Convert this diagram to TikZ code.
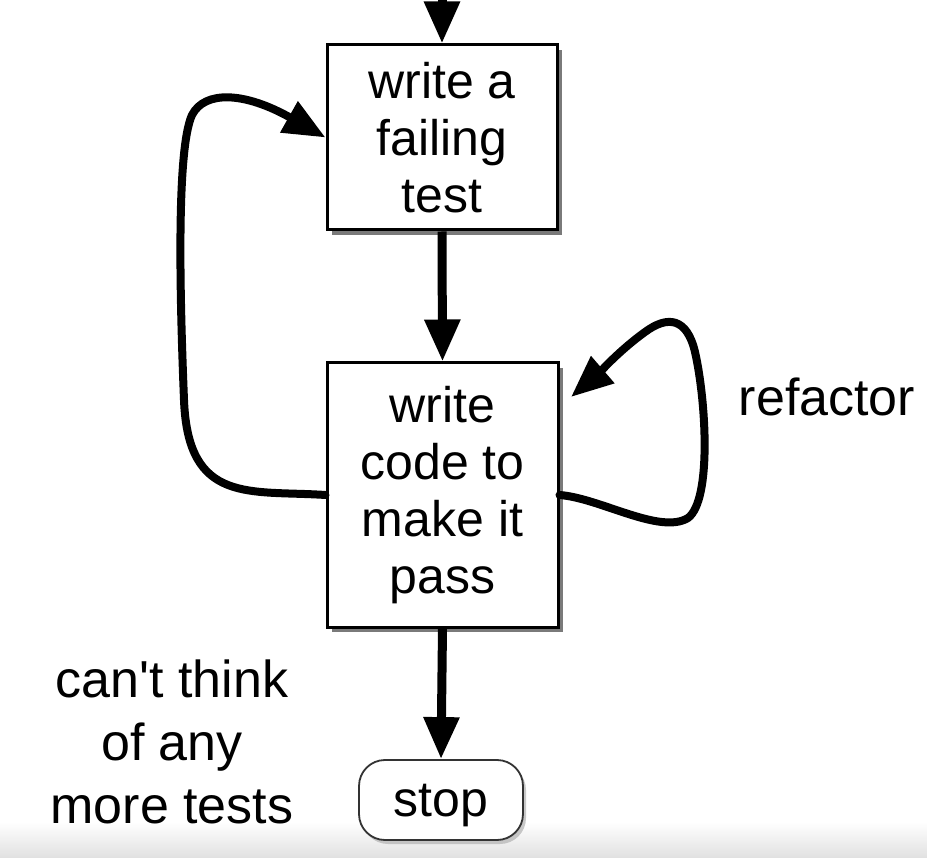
\documentclass[tikz,border=0pt]{standalone}
\usepackage{fontspec}
\setmainfont{Liberation Sans}[Ligatures=TeXOff]
\usetikzlibrary{arrows.meta,shadows,calc}
\begin{document}
\begin{tikzpicture}[x=1pt,y=-1pt,
  boxstyle/.style={draw=black, line width=3pt, fill=white, align=center, inner sep=0pt,
    font=\fontsize{50}{57}\selectfont,
    drop shadow={shadow xshift=5pt, shadow yshift=-5pt, fill=black!65, opacity=0.8}},
  stopstyle/.style={draw=black!80, line width=1.8pt, fill=white, rounded corners=26pt, inner sep=0pt,
    font=\fontsize{50}{57}\selectfont, minimum width=164pt, minimum height=80pt, text depth=0pt,
    drop shadow={shadow xshift=3pt, shadow yshift=-4pt, fill=black!30, opacity=0.7}},
  flow/.style={line width=9pt, -{Triangle[width=34pt,length=42pt]}},
  loop/.style={line width=8pt, line cap=round, -{Triangle[width=34pt,length=42pt]}},
  lbl/.style={font=\fontsize{52}{63}\selectfont, align=center, inner sep=0pt}
]
\useasboundingbox (0,0) rectangle (927,858);
\fill[white] (0,0) rectangle (927,858);
\shade[top color=white, bottom color=black!12] (0,822) rectangle (927,858);

\node[boxstyle, minimum width=230pt, minimum height=185pt] (b1) at (442,137.5) {write a\\failing\\test};
\node[boxstyle, minimum width=231pt, minimum height=264pt] (b2) at (442.5,495) {write\\code to\\make it\\pass};
\node[stopstyle] (stop) at (441,800) {stop};

\coordinate (top) at (442,0);
\coordinate (rtip) at (571,397);

\node[lbl] (refactor) at (827,397) {refactor};
\node[lbl, anchor=base] (cant) at (172,823) {can't think\\of any\\more tests};

\draw[flow] (top) -- (b1.north);
\draw[flow] (b1.south) -- (b2.north);
\draw[flow] (b2.south) -- (stop.north);

\draw[loop] (b2.west) .. controls (250,490) and (188,505) .. (184,400)
  .. controls (180,300) and (176,150) .. (192,115)
  .. controls (205,90) and (245,92) .. (b1.west);

\draw[loop] (b2.east) .. controls (600,498) and (660,535) .. (688,518)
  .. controls (712,500) and (706,400) .. (695,352)
  .. controls (687,318) and (668,315) .. (645,332)
  .. controls (620,350) and (600,372) .. (rtip);
\end{tikzpicture}
\end{document}
